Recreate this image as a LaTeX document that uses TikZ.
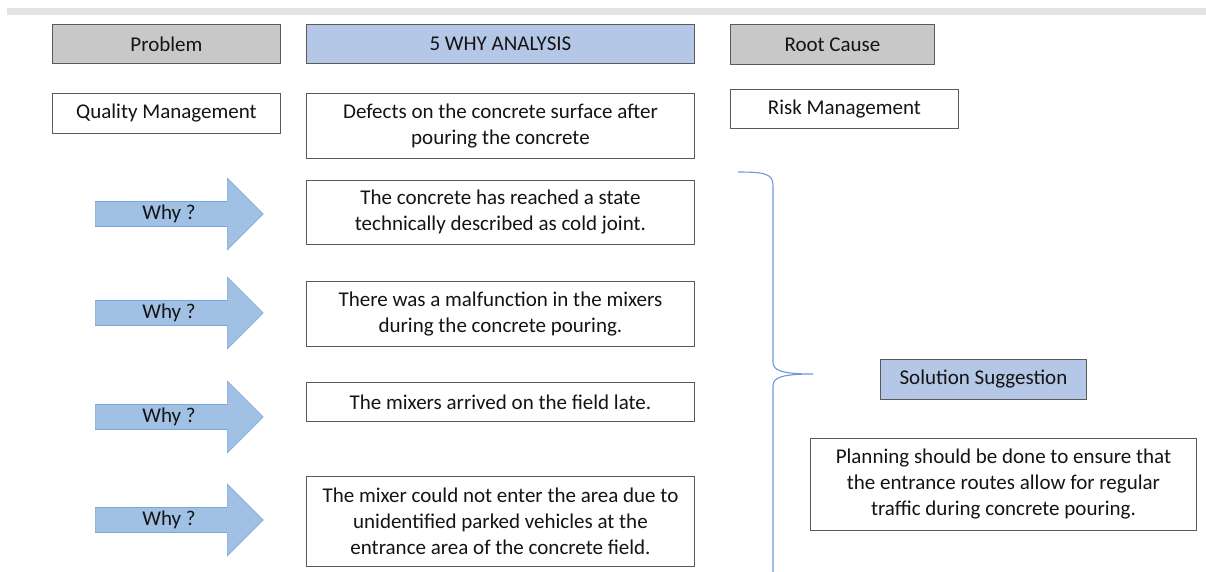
\documentclass[tikz,border=0pt]{standalone}
\usepackage{fontspec}
\setmainfont{Carlito}
\usepackage{xcolor}
\definecolor{hdrgray}{RGB}{200,200,200}
\definecolor{hdrblue}{RGB}{180,199,231}
\definecolor{arrowblue}{RGB}{160,192,228}
\definecolor{arrowline}{RGB}{125,165,215}
\definecolor{bracecol}{RGB}{112,150,220}
\definecolor{boxline}{RGB}{90,90,90}
\definecolor{txt}{RGB}{20,20,20}
\usepackage{tikz}
\usetikzlibrary{positioning,shapes.arrows,calc}
\tikzset{
  cell/.style={draw=boxline,fill=white,line width=0.9pt,anchor=north west,%
    font=\fontsize{21}{26}\selectfont,text=txt,align=center,inner sep=0pt},
  hdr/.style={cell,fill=hdrgray},
  hdrb/.style={cell,fill=hdrblue},
  whyarrow/.style={single arrow,draw=arrowline,fill=arrowblue,line width=0.6pt,%
    single arrow head extend=17.5pt,single arrow tip angle=90,anchor=tail,%
    minimum height=168pt,minimum width=72pt,inner sep=0pt,%
    font=\fontsize{21}{26}\selectfont,text=txt},
}
\begin{document}
\begin{tikzpicture}[x=1pt,y=-1pt]
\useasboundingbox (0,0) rectangle (1206,571);
\fill[gray!22] (7,8) rectangle (1206,15);
\node[hdr,minimum width=228pt,minimum height=39pt] (prob) at (52,24) {Problem};
\node[hdrb,minimum width=388pt,minimum height=39pt] (five) at (306,24) {5 WHY ANALYSIS};
\node[hdr,minimum width=204pt,minimum height=40pt] (root) at (730,24) {Root Cause};
\node[cell,minimum width=228pt,minimum height=40pt] (qm) at (52,93) {Quality Management};
\node[cell,minimum width=388pt,minimum height=65pt] (defect) at (306,93)
  {Defects on the concrete surface after\\pouring the concrete};
\node[cell,minimum width=228pt,minimum height=39pt] (risk) at (730,89) {Risk Management};
\node[cell,minimum width=388pt,minimum height=64pt] (c1) at (306,180)
  {The concrete has reached a state\\technically described as cold joint.};
\node[cell,minimum width=388pt,minimum height=65pt] (c2) at (306,281)
  {There was a malfunction in the mixers\\during the concrete pouring.};
\node[cell,minimum width=388pt,minimum height=39pt] (c3) at (306,382)
  {The mixers arrived on the field late.};
\node[cell,minimum width=388pt,minimum height=90pt] (c4) at (306,476)
  {The mixer could not enter the area due to\\unidentified parked vehicles at the\\entrance area of the concrete field.};
\node[whyarrow] (w1) at (95,214) {Why ?\hspace*{8pt}};
\node[whyarrow] (w2) at (95,313) {Why ?\hspace*{8pt}};
\node[whyarrow] (w3) at (95,417) {Why ?\hspace*{8pt}};
\node[whyarrow] (w4) at (95,520) {Why ?\hspace*{8pt}};
\node[hdrb,minimum width=206pt,minimum height=40pt] (sol) at (880,359) {Solution Suggestion};
\node[cell,minimum width=386pt,minimum height=92pt] (plan) at (810,438)
  {Planning should be done to ensure that\\the entrance routes allow for regular\\traffic during concrete pouring.};
\coordinate (tip) at (813,374);
\draw[bracecol,line width=1.1pt] (738,172) .. controls (766,172) and (773,174) .. (773,186)
  -- (773,362) .. controls (773,370) and (780,374) .. (tip)
  .. controls (780,374) and (773,378) .. (773,386) -- (773,575);
\end{tikzpicture}
\end{document}
